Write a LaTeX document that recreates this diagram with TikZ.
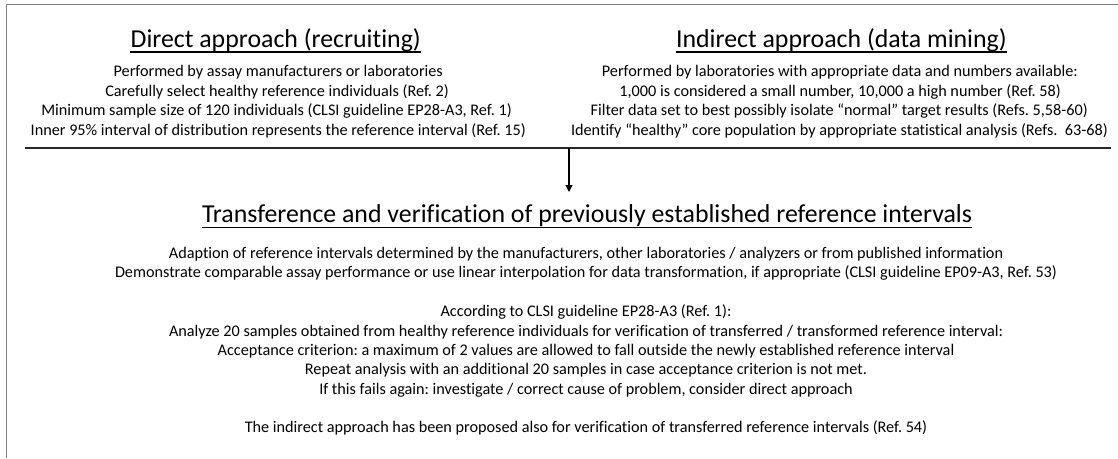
\documentclass[tikz,border=0pt]{standalone}
\usepackage{fontspec}
\setmainfont{Carlito}[Ligatures=NoCommon]
\usetikzlibrary{arrows.meta,calc}
\newlength\calibLen
\newcommand\calibfs[3]{\settowidth\calibLen{\fontsize{10}{12}\selectfont #3}\pgfmathsetmacro#1{10*#2/\calibLen}}
\definecolor{framegray}{RGB}{128,128,128}
\definecolor{rulegray}{RGB}{40,40,40}
\begin{document}
\frenchspacing
\calibfs{\titleFs}{770}{Transference and verification of previously established reference intervals}%
\calibfs{\bodyFs}{942}{Demonstrate comparable assay performance or use linear interpolation for data transformation, if appropriate (CLSI guideline EP09-A3, Ref. 53)}%
\begin{tikzpicture}[x=1pt,y=-1pt,
  heading/.style={inner sep=0pt, font=\fontsize{\titleFs}{\titleFs}\selectfont},
  bodytext/.style={inner sep=0pt, font=\fontsize{\bodyFs}{\bodyFs}\selectfont},
  uline/.style={line width=1.3pt},
  sepline/.style={draw=rulegray, line width=1.1pt},
  flowarrow/.style={line width=1.2pt, -{Triangle[width=7pt,length=7pt]}}]
\useasboundingbox (0,0) rectangle (1118,458);
% frame (only top and left edges visible)
\draw[framegray, line width=1.8pt] (1118,4.5) -- (6.5,4.5) -- (6.5,458);

% Direct approach
\node[heading, anchor=base east] (dirT) at (421,47) {Direct approach (recruiting)};
\draw[uline] ($(dirT.base west)+(0,5)$) -- ($(dirT.base east)+(0,5)$);
\node[bodytext, anchor=base east] (d1) at (443,76.5) {Performed by assay manufacturers or laboratories};
\node[bodytext, anchor=base east] (d2) at (449,96) {Carefully select healthy reference individuals (Ref. 2)};
\node[bodytext, anchor=base east] (d3) at (512,115.5) {Minimum sample size of 120 individuals (CLSI guideline EP28-A3, Ref. 1)};
\node[bodytext, anchor=base east] (d4) at (526,135) {Inner 95\% interval of distribution represents the reference interval (Ref. 15)};

% Indirect approach
\node[heading, anchor=base east] (indT) at (1007,47) {Indirect approach (data mining)};
\draw[uline] ($(indT.base west)+(0,5)$) -- ($(indT.base east)+(0,5)$);
\node[bodytext, anchor=base east] (i1) at (1078,76.5) {Performed by laboratories with appropriate data and numbers available:};
\node[bodytext, anchor=base east] (i2) at (1061,96) {1,000 is considered a small number, 10,000 a high number (Ref. 58)};
\node[bodytext, anchor=base east] (i3) at (1088,115.5) {Filter data set to best possibly isolate “normal” target results (Refs. 5,58-60)};
\node[bodytext, anchor=base east] (i4) at (1108,135) {Identify “healthy” core population by appropriate statistical analysis (Refs.~~63-68)};

% separator and arrow
\coordinate (sepL) at (25,148);
\coordinate (sepR) at (1111,148);
\draw[sepline] (sepL) -- (sepR);
\coordinate (arrS) at (569,148);
\coordinate (arrE) at (569,192);
\draw[flowarrow] (arrS) -- (arrE);

% Transference block
\node[heading, anchor=base] (trT) at (587,222.5) {Transference and verification of previously established reference intervals};
\draw[uline] ($(trT.base west)+(0,5)$) -- ($(trT.base east)+(0,5)$);
\node[bodytext, anchor=base] (t1) at (586,258.5) {Adaption of reference intervals determined by the manufacturers, other laboratories / analyzers or from published information};
\node[bodytext, anchor=base] (t2) at (586,277.5) {Demonstrate comparable assay performance or use linear interpolation for data transformation, if appropriate (CLSI guideline EP09-A3, Ref. 53)};
\node[bodytext, anchor=base] (t3) at (586,316) {According to CLSI guideline EP28-A3 (Ref. 1):};
\node[bodytext, anchor=base] (t4) at (586,336) {Analyze 20 samples obtained from healthy reference individuals for verification of transferred / transformed reference interval:};
\node[bodytext, anchor=base] (t5) at (586,355.5) {Acceptance criterion: a maximum of 2 values are allowed to fall outside the newly established reference interval};
\node[bodytext, anchor=base] (t6) at (586,374.5) {Repeat analysis with an additional 20 samples in case acceptance criterion is not met.};
\node[bodytext, anchor=base] (t7) at (586,394) {If this fails again: investigate / correct cause of problem, consider direct approach};
\node[bodytext, anchor=base] (t8) at (586,432) {The indirect approach has been proposed also for verification of transferred reference intervals (Ref. 54)};
\end{tikzpicture}
\end{document}
